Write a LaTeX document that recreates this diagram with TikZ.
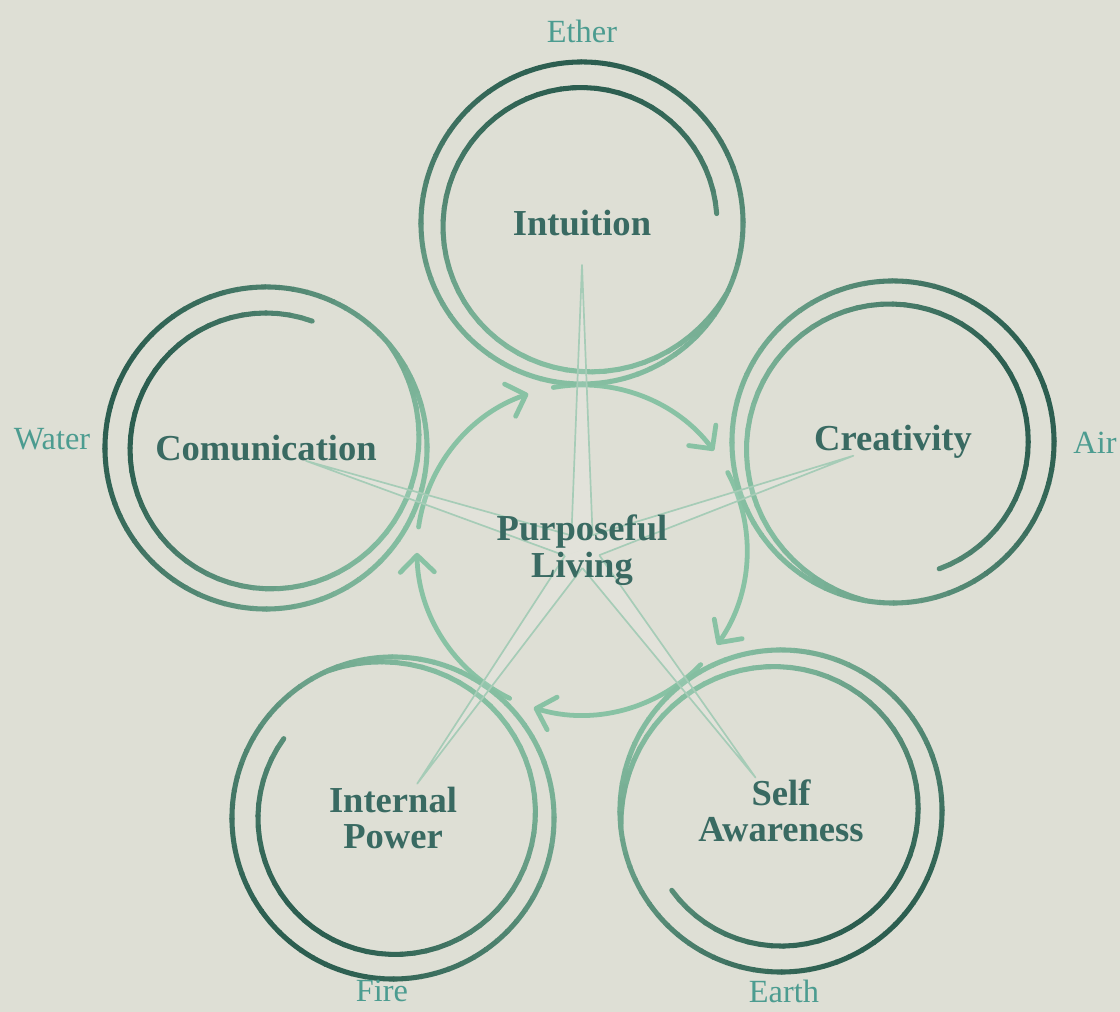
\documentclass[tikz,border=0pt]{standalone}
\usepackage{fontspec}
\setmainfont{Liberation Serif}
\usepackage{tikz}
\usetikzlibrary{arrows.meta, calc}

\definecolor{paper}{HTML}{DEDFD5}
\definecolor{ringdark}{HTML}{2C5E50}
\definecolor{ringlight}{HTML}{86BFA2}
\definecolor{flowgreen}{HTML}{88C2A4}
\definecolor{spokegreen}{HTML}{A6CCB7}
\definecolor{titleteal}{HTML}{396A62}
\definecolor{elemteal}{HTML}{4C9C90}

\pgfdeclarelayer{back}
\pgfsetlayers{back,main}

\tikzset{x=0.025cm, y=0.025cm, % one unit is one pixel of the sheet
title/.style={ % Names of the five parts and of the middle
font=\bfseries\fontsize{26}{26}\selectfont,
text=titleteal, align=center},
element/.style={ % Ether, Air, Earth, Fire, Water
font=\fontsize{23}{23}\selectfont,
text=elemteal},
ringline/.style={line width=3.6pt, line cap=round}, % Strokes of the spirals
flow/.style={ % Arrows of the inner cycle
draw=flowgreen, line width=3.4pt, line cap=round,
-{Straight Barb[round, length=0.42cm, width=0.85cm]}},
spoke/.style={draw=spokegreen, line width=1.2pt, line join=round}}

% Spiral round a node: a full outer circle and an inner arc growing into it
% #1 node, #2 angle of the loose inner end, #3 angle facing the middle (lightest side)
\newcommand{\spiralring}[3]{%
\foreach \a in {0,5,...,355}{%
\pgfmathtruncatemacro{\t}{50+50*cos(\a+2.5-#3)}
\draw[ringline, line cap=butt, draw=ringlight!\t!ringdark] ([shift={(\a:4.025cm)}]#1.center) arc[start angle=\a, end angle=\a+5.5, radius=4.025cm];
}
\foreach \i in {0,...,65}{%
\pgfmathsetmacro{\a}{#2+5*\i}
\pgfmathsetmacro{\ra}{135+26*(\i/66)^3}
\pgfmathsetmacro{\rb}{135+26*((\i+1)/66)^3}
\pgfmathtruncatemacro{\t}{50+50*cos(\a+2.5-#3)}
\draw[ringline, draw=ringlight!\t!ringdark] ([shift={(\a:\ra)}]#1.center) -- ([shift={(\a+5:\rb)}]#1.center);
}}

\begin{document}
\begin{tikzpicture}
    \useasboundingbox (0,0) rectangle (1120,1012);

    \node[title] (pl) at (582,462) {Purposeful\\Living};
    \node[title] (intu) at (582,789) {Intuition};
    \node[title] (crea) at (893,570) {Creativity};
    \node[title] (self) at (781,201) {Self\\Awareness};
    \node[title] (powr) at (393,194) {Internal\\Power};
    \node[title] (comm) at (266,564) {Comunication};

    \node[element] (ether) at ([shift={(0,192)}]intu.center) {Ether};
    \node[element] (air) at ([shift={(202,-1)}]crea.center) {Air};
    \node[element] (earth) at ([shift={(3,-180)}]self.center) {Earth};
    \node[element] (fire) at ([shift={(-11,-173)}]powr.center) {Fire};
    \node[element] (water) at ([shift={(-214,9)}]comm.center) {Water};

    \begin{pgfonlayer}{back}
    \fill[paper] (0,0) rectangle (1120,1012);

    \foreach \s in {100,28,-44,-116,-188}
        \draw[flow] ([shift={(\s:4.125cm)}]pl.center) arc[start angle=\s, end angle=\s-63, radius=4.125cm];

    \spiralring{intu}{4}{270}
    \spiralring{crea}{-70}{199}
    \spiralring{self}{216}{127}
    \spiralring{powr}{144}{55}
    \spiralring{comm}{70}{342}

    \foreach \n in {intu,crea,self,powr,comm}{
        \fill[white, fill opacity=.12] (pl.center) -- ($(pl.center)!.45cm!36:(\n.center)$) -- ($(\n.center)!1.05cm!(pl.center)$) -- ($(pl.center)!.45cm!-36:(\n.center)$) -- cycle;
        \draw[spoke] ($(pl.center)!.45cm!36:(\n.center)$) -- ($(\n.center)!1.05cm!(pl.center)$) -- ($(pl.center)!.45cm!-36:(\n.center)$);
    }
    \end{pgfonlayer}

\end{tikzpicture}
\end{document}
